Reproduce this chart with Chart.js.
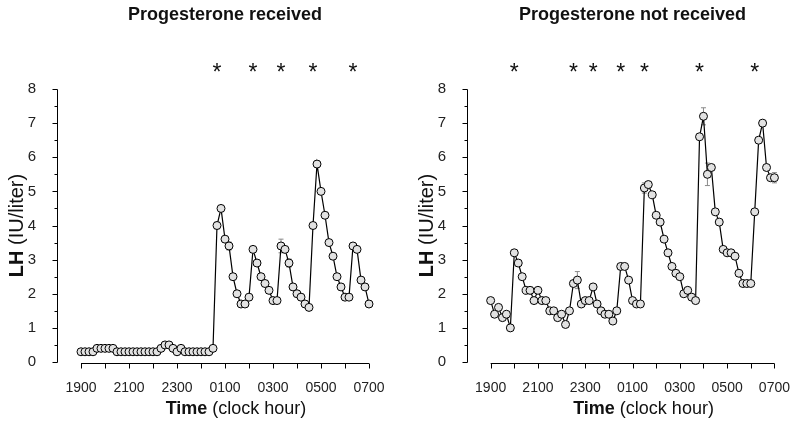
<!DOCTYPE html>
<html>
<head>
<meta charset="utf-8">
<script src="https://cdn.jsdelivr.net/npm/chart.js@4.4.0/dist/chart.umd.min.js"></script>
<style>
  body { margin: 0; background: #fff; }
  #wrap { position: relative; width: 800px; height: 425px; }
  canvas { position: absolute; top: 0; }
</style>
</head>
<body>
<div id="wrap">
  <canvas id="chartA" width="400" height="425" style="left:0"></canvas>
  <canvas id="chartB" width="400" height="425" style="left:400px"></canvas>
</div>
<script>
// sampling every 10 minutes, 1900 -> 0700
const sampleTimes = [
  '1900','1910','1920','1930','1940','1950',
  '2000','2010','2020','2030','2040','2050',
  '2100','2110','2120','2130','2140','2150',
  '2200','2210','2220','2230','2240','2250',
  '2300','2310','2320','2330','2340','2350',
  '0000','0010','0020','0030','0040','0050',
  '0100','0110','0120','0130','0140','0150',
  '0200','0210','0220','0230','0240','0250',
  '0300','0310','0320','0330','0340','0350',
  '0400','0410','0420','0430','0440','0450',
  '0500','0510','0520','0530','0540','0550',
  '0600','0610','0620','0630','0640','0650',
  '0700'
];

const lhReceived = [
  0.3, 0.3, 0.3, 0.3, 0.4, 0.4, 0.4, 0.4, 0.4, 0.3, 0.3, 0.3,
  0.3, 0.3, 0.3, 0.3, 0.3, 0.3, 0.3, 0.3, 0.4, 0.5, 0.5, 0.4,
  0.3, 0.4, 0.3, 0.3, 0.3, 0.3, 0.3, 0.3, 0.3, 0.4, 4.0, 4.5,
  3.6, 3.4, 2.5, 2.0, 1.7, 1.7, 1.9, 3.3, 2.9, 2.5, 2.3, 2.1,
  1.8, 1.8, 3.4, 3.3, 2.9, 2.2, 2.0, 1.9, 1.7, 1.6, 4.0, 5.8,
  5.0, 4.3, 3.5, 3.1, 2.5, 2.2, 1.9, 1.9, 3.4, 3.3, 2.4, 2.2,
  1.7
];

const lhNotReceived = [
  1.8, 1.4, 1.6, 1.3, 1.4, 1.0, 3.2, 2.9, 2.5, 2.1, 2.1, 1.8,
  2.1, 1.8, 1.8, 1.5, 1.5, 1.3, 1.4, 1.1, 1.5, 2.3, 2.4, 1.7,
  1.8, 1.8, 2.2, 1.7, 1.5, 1.4, 1.4, 1.2, 1.5, 2.8, 2.8, 2.4,
  1.8, 1.7, 1.7, 5.1, 5.2, 4.9, 4.3, 4.1, 3.6, 3.2, 2.8, 2.6,
  2.5, 2.0, 2.1, 1.9, 1.8, 6.6, 7.2, 5.5, 5.7, 4.4, 4.1, 3.3,
  3.2, 3.2, 3.1, 2.6, 2.3, 2.3, 2.3, 4.4, 6.5, 7.0, 5.7, 5.4,
  5.4
];

// error bars (SEM) where they show past the markers
const errReceived = { '0040': 0.1, '0110': 0.12, '0320': 0.2, '0340': 0.12 };
const errNotReceived = { '2010': 0.1, '2040': 0.1, '2240': 0.25, '0130': 0.15, '0400': 0.25, '0410': 0.33, '0700': 0.15 };

// pulses marked with an asterisk
const starsReceived = ['0040', '0210', '0320', '0440', '0620'];
const starsNotReceived = ['2000', '2230', '2320', '0030', '0130', '0350', '0610'];

const hourTicks = ['1900','2000','2100','2200','2300','0000','0100','0200','0300','0400','0500','0600','0700'];
const hourLabels = ['1900', '2100', '2300', '0100', '0300', '0500', '0700'];
const yTicks = [0, 1, 2, 3, 4, 5, 6, 7, 8];

const FONT = "'Liberation Sans', Arial, Helvetica, sans-serif";

function toHour(t) {
  const h = parseInt(t.slice(0, 2), 10) + parseInt(t.slice(2), 10) / 60;
  return h < 12 ? h + 24 : h;
}

function drawMixed(ctx, parts, cx, cy) {
  let total = 0;
  parts.forEach(p => { ctx.font = p.font; p.w = ctx.measureText(p.text).width; total += p.w; });
  let x = cx - total / 2;
  ctx.textAlign = 'left';
  ctx.textBaseline = 'middle';
  parts.forEach(p => { ctx.font = p.font; ctx.fillText(p.text, x, cy); x += p.w; });
}

const decor = {
  id: 'decor',
  beforeDatasetsDraw(chart, args, opts) {
    const ctx = chart.ctx, xs = chart.scales.x, ys = chart.scales.y;
    const left = chart.chartArea.left + 0.5;
    ctx.save();
    ctx.strokeStyle = '#000';
    ctx.lineWidth = 1;
    ctx.beginPath();
    // y axis with major / minor ticks
    ctx.moveTo(left, Math.round(ys.getPixelForValue(yTicks[yTicks.length - 1])) + 0.5);
    ctx.lineTo(left, Math.round(ys.getPixelForValue(yTicks[0])) + 0.5);
    yTicks.forEach((v, i) => {
      let y = Math.round(ys.getPixelForValue(v)) + 0.5;
      ctx.moveTo(left - 5, y); ctx.lineTo(left, y);
      if (i < yTicks.length - 1) {
        y = Math.round(ys.getPixelForValue(v + 0.5)) + 0.5;
        ctx.moveTo(left - 3, y); ctx.lineTo(left, y);
      }
    });
    // x axis, detached: runs only 1900 -> 0700
    const yb = Math.round(ys.getPixelForValue(0)) + 1.5;
    ctx.moveTo(xs.getPixelForValue(toHour(hourTicks[0])), yb);
    ctx.lineTo(xs.getPixelForValue(toHour(hourTicks[hourTicks.length - 1])), yb);
    hourTicks.forEach(t => {
      const x = Math.round(xs.getPixelForValue(toHour(t))) + 0.5;
      ctx.moveTo(x, yb); ctx.lineTo(x, yb + 5);
    });
    ctx.stroke();

    // error bars
    ctx.strokeStyle = '#8a8a8a';
    ctx.beginPath();
    Object.keys(opts.errors).forEach(t => {
      const i = sampleTimes.indexOf(t);
      const v = opts.values[i], e = opts.errors[t];
      const x = xs.getPixelForValue(toHour(t));
      const y1 = ys.getPixelForValue(v + e), y2 = ys.getPixelForValue(v - e);
      ctx.moveTo(x, y1); ctx.lineTo(x, y2);
      ctx.moveTo(x - 2.5, y1); ctx.lineTo(x + 2.5, y1);
      ctx.moveTo(x - 2.5, y2); ctx.lineTo(x + 2.5, y2);
    });
    ctx.stroke();
    ctx.restore();
  },
  afterDraw(chart, args, opts) {
    const ctx = chart.ctx, xs = chart.scales.x, ys = chart.scales.y;
    const x0 = xs.getPixelForValue(toHour(hourTicks[0]));
    const x1 = xs.getPixelForValue(toHour(hourTicks[hourTicks.length - 1]));
    ctx.save();
    ctx.fillStyle = '#111';
    // asterisks
    ctx.font = '23px ' + FONT;
    ctx.textAlign = 'center';
    ctx.textBaseline = 'alphabetic';
    opts.stars.forEach(t => {
      ctx.fillText('*', xs.getPixelForValue(toHour(t)), ys.getPixelForValue(8.64) + 13);
    });
    // panel title
    ctx.font = 'bold 18px ' + FONT;
    ctx.textBaseline = 'middle';
    ctx.fillText(opts.title, (x0 + x1) / 2, 15);
    // x title
    drawMixed(ctx, [
      { text: 'Time', font: 'bold 18px ' + FONT },
      { text: ' (clock hour)', font: '18px ' + FONT }
    ], (x0 + x1) / 2 + 11, 409);
    // y title
    const ca = chart.chartArea;
    ctx.translate(ca.left - 40, (ca.top + ca.bottom) / 2);
    ctx.rotate(-Math.PI / 2);
    drawMixed(ctx, [
      { text: 'LH', font: 'bold 20px ' + FONT },
      { text: ' (IU/liter)', font: '20px ' + FONT }
    ], 0, 0);
    ctx.restore();
  }
};

function lhChart(id, values, errors, stars, title, padLeft, padRight) {
  return new Chart(document.getElementById(id), {
    type: 'line',
    data: {
      datasets: [{
        data: sampleTimes.map((t, i) => ({ x: toHour(t), y: values[i] })),
        borderColor: '#000',
        borderWidth: 1.2,
        pointRadius: 4,
        pointBorderWidth: 1,
        pointBorderColor: '#000',
        pointBackgroundColor: '#e2e2e2',
        tension: 0,
        clip: false
      }]
    },
    options: {
      responsive: false,
      animation: false,
      layout: { padding: { left: padLeft, right: padRight, top: 89, bottom: 0 } },
      plugins: {
        legend: { display: false },
        tooltip: { enabled: false },
        decor: { title: title, values: values, errors: errors, stars: stars }
      },
      scales: {
        x: {
          type: 'linear',
          min: 18,
          max: 31,
          grid: { display: false },
          border: { display: false },
          afterBuildTicks: s => { s.ticks = hourTicks.map(t => ({ value: toHour(t) })); },
          afterFit: s => { s.height = 63; },
          ticks: {
            autoSkip: false,
            maxRotation: 0,
            padding: 10,
            color: '#222',
            font: { family: FONT, size: 14 },
            callback: v => hourLabels.find(t => toHour(t) === v) || ''
          }
        },
        y: {
          min: 0,
          max: 8,
          grid: { display: false },
          border: { display: false },
          afterFit: s => { s.width = 40; },
          ticks: {
            stepSize: 1,
            padding: 13,
            color: '#222',
            font: { family: FONT, size: 15 }
          }
        }
      }
    },
    plugins: [decor]
  });
}

lhChart('chartA', lhReceived, errReceived, starsReceived, 'Progesterone received', 17, 31);
lhChart('chartB', lhNotReceived, errNotReceived, starsNotReceived, 'Progesterone not received', 27, 21);
</script>
</body>
</html>
